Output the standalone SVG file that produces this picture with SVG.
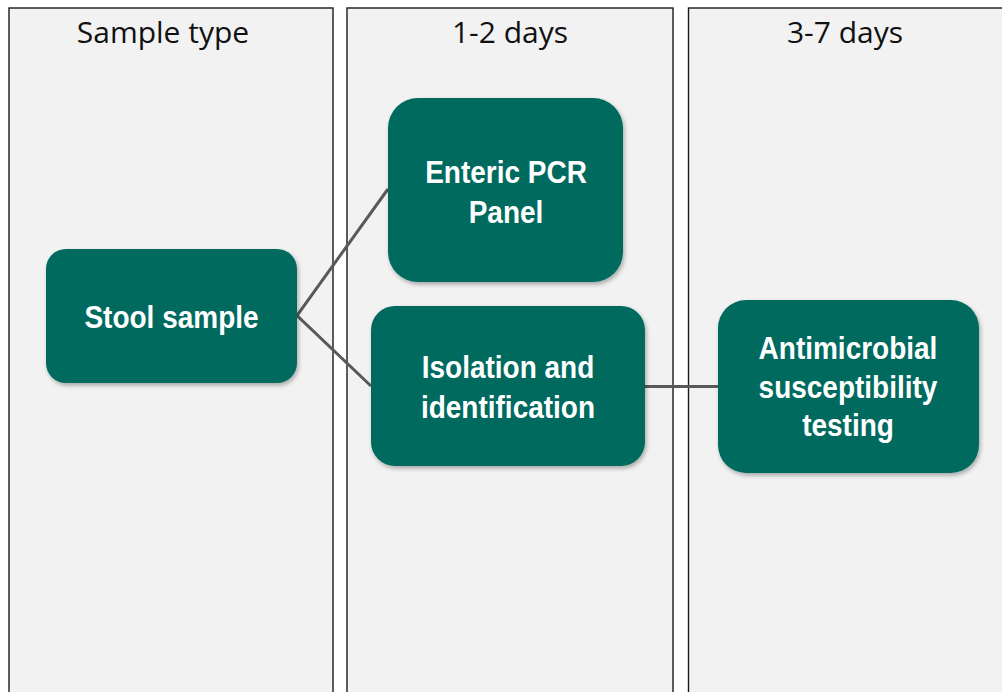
<svg xmlns="http://www.w3.org/2000/svg" width="1002" height="692" viewBox="0 0 1002 692">
<style>
.col{fill:#f2f2f2;stroke:#1a1a1a;stroke-width:1.4}
.hdr{font-family:"Open Sans","Noto Sans",sans-serif;font-size:30px;fill:#111;text-anchor:middle}
.box{fill:#006b5e;filter:url(#sh)}
.lbl{font-family:"Liberation Sans",Arial,sans-serif;font-weight:bold;font-size:32px;fill:#fff;text-anchor:middle}
.con{stroke:#595959;stroke-width:3;fill:none}
</style>
<defs>
<filter id="sh" x="-10%" y="-10%" width="125%" height="130%">
<feDropShadow dx="1.5" dy="2.5" stdDeviation="2" flood-color="#000" flood-opacity="0.3"/>
</filter>
</defs>
<rect width="1002" height="692" fill="#ffffff"/>
<g id="columns">
<rect class="col" x="9" y="8" width="324" height="700"/>
<rect class="col" x="347" y="8" width="326" height="700"/>
<rect class="col" x="688.5" y="8" width="330" height="700"/>
<text class="hdr" x="163" y="43">Sample type</text>
<text class="hdr" x="510" y="43">1-2 days</text>
<text class="hdr" x="845" y="43">3-7 days</text>
</g>
<g id="connectors">
<polyline class="con" points="388,189 297,315.5 371,386"/>
<line class="con" x1="645" y1="386.5" x2="718" y2="386.5"/>
</g>
<g id="node-stool">
<rect class="box" x="46" y="249" width="251" height="134" rx="20"/>
<text class="lbl" transform="translate(171.5,0) scale(0.875,1)" x="0" y="328">Stool sample</text>
</g>
<g id="node-pcr">
<rect class="box" x="388" y="98" width="235" height="184" rx="30"/>
<text class="lbl" transform="translate(506,0) scale(0.875,1)"><tspan x="0" y="183">Enteric PCR</tspan><tspan x="0" y="223">Panel</tspan></text>
</g>
<g id="node-isolation">
<rect class="box" x="371" y="306" width="274" height="160" rx="24"/>
<text class="lbl" transform="translate(508,0) scale(0.875,1)"><tspan x="0" y="378">Isolation and</tspan><tspan x="0" y="418">identification</tspan></text>
</g>
<g id="node-ast">
<rect class="box" x="718" y="300" width="261" height="173" rx="28"/>
<text class="lbl" transform="translate(848,0) scale(0.875,1)"><tspan x="0" y="359">Antimicrobial</tspan><tspan x="0" y="398">susceptibility</tspan><tspan x="0" y="436">testing</tspan></text>
</g>
</svg>
